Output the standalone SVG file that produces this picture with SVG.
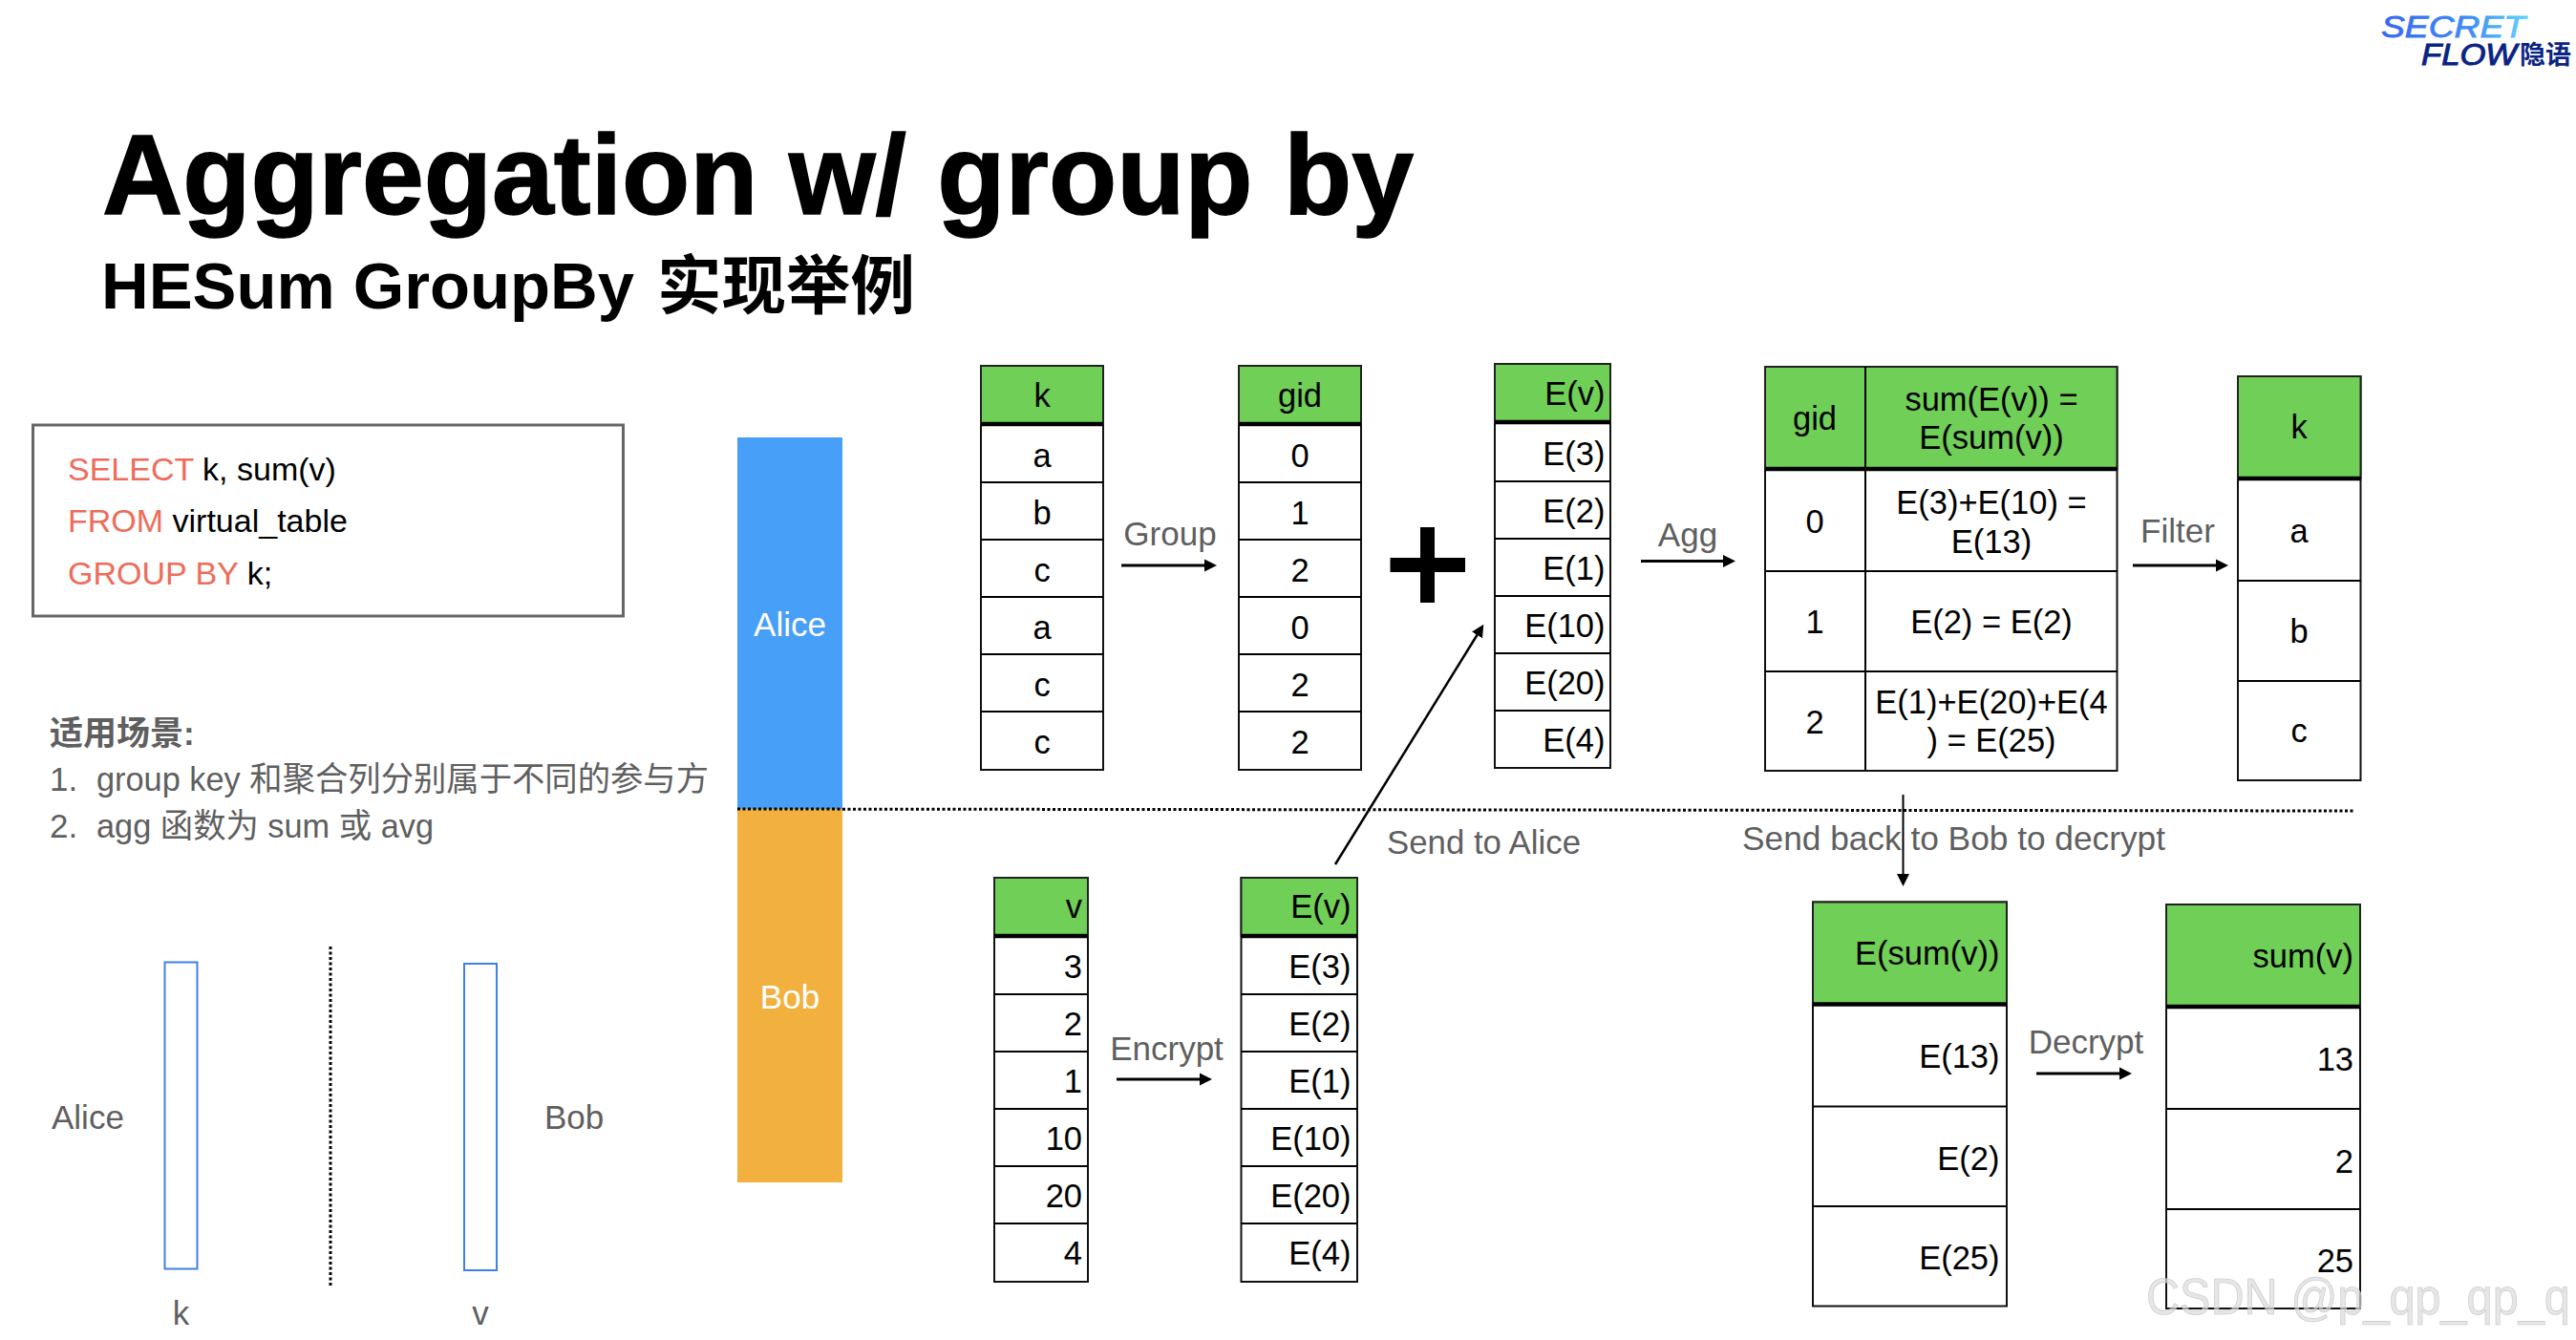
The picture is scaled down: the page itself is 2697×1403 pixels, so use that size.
<svg xmlns="http://www.w3.org/2000/svg" width="2697" height="1403" viewBox="0 0 2697 1403">
<style>
text{font-family:"Liberation Sans","Noto Sans CJK SC",sans-serif}
.c{font-size:34.500px;fill:#000;text-anchor:middle}
.r{font-size:34.500px;fill:#000;text-anchor:end}
.g{font-size:35px;fill:#5f5f5f}
.m{text-anchor:middle}
.w{font-size:35px;fill:#fff;text-anchor:middle;font-weight:500}
.s{font-size:34px;fill:#000}
.o{fill:#ee6c5a}
.t{fill:#fff;stroke:#111;stroke-width:2}
.h{fill:#70cf57;stroke:#222;stroke-width:2}
.l{stroke:#000;stroke-width:2;fill:none}
.b{stroke:#000;stroke-width:4.500;fill:none}
.a{stroke:#000;stroke-width:3;fill:none;marker-end:url(#ah)}
.d{stroke:#000;stroke-width:3;stroke-dasharray:3 2.500;fill:none}
.p{fill:#fff;stroke:#3f7fe8;stroke-width:2}
</style>
<defs>
<marker id="ah" markerUnits="userSpaceOnUse" markerWidth="14" markerHeight="14" refX="1" refY="7" orient="auto"><path d="M0,0.500 L13,7 L0,13.500 Z" fill="#000"/></marker>
<linearGradient id="lg" x1="0" x2="1" y1="0" y2="0"><stop offset="0" stop-color="#3568f0"/><stop offset="0.600" stop-color="#3f8cf5"/><stop offset="1" stop-color="#62d4fb"/></linearGradient>
</defs>

<g id="logo">
<text x="2493" y="39" font-size="32" font-style="italic" fill="url(#lg)" stroke="url(#lg)" stroke-width="0.800" textLength="151" lengthAdjust="spacingAndGlyphs">SECRET</text>
<text x="2535" y="68" font-size="32" font-style="italic" fill="#0a2484" stroke="#0a2484" stroke-width="1" textLength="100" lengthAdjust="spacingAndGlyphs">FLOW</text>
<text x="2638" y="67" font-size="27" font-weight="700" fill="#0a2484">隐语</text>
</g>

<g id="title">
<text x="107" y="224" font-size="119" font-weight="700" fill="#000" stroke="#000" stroke-width="1.500" textLength="1373" lengthAdjust="spacingAndGlyphs">Aggregation w/ group by</text>
<text x="106" y="323" font-size="69" font-weight="700" fill="#000" textLength="558" lengthAdjust="spacingAndGlyphs">HESum GroupBy</text>
<text x="688" y="323" font-size="67.500" font-weight="700" fill="#000">实现举例</text>
</g>

<g id="sql">
<rect x="34.500" y="445" width="618" height="200" fill="#fff" stroke="#666" stroke-width="3"/>
<text class="s" x="71" y="503"><tspan class="o">SELECT</tspan> k, sum(v)</text>
<text class="s" x="71" y="557"><tspan class="o">FROM</tspan> virtual_table</text>
<text class="s" x="71" y="612"><tspan class="o">GROUP BY</tspan> k;</text>
</g>

<g id="usage">
<text class="g" x="52" y="780" font-weight="700">适用场景:</text>
<text class="g" x="52" y="828">1.</text><text class="g" x="101" y="828" textLength="641" lengthAdjust="spacingAndGlyphs">group key 和聚合列分别属于不同的参与方</text>
<text class="g" x="52" y="877">2.</text><text class="g" x="101" y="877" textLength="353" lengthAdjust="spacingAndGlyphs">agg 函数为 sum 或 avg</text>
</g>

<g id="partition">
<rect class="p" x="172.500" y="1007.500" width="34" height="321"/>
<rect class="p" x="486" y="1009" width="34" height="321"/>
<line class="d" x1="346" y1="991" x2="346" y2="1347"/>
<text class="g" x="54" y="1182">Alice</text>
<text class="g" x="570" y="1182">Bob</text>
<text class="g m" x="189.500" y="1387">k</text>
<text class="g m" x="503" y="1387">v</text>
</g>

<g id="alice-band"><rect x="772" y="458" width="110" height="389" fill="#479ff8"/><text class="w" x="827" y="666">Alice</text></g>
<g id="bob-band"><rect x="772" y="847" width="110" height="391" fill="#f2b03f"/><text class="w" x="827" y="1056">Bob</text></g>

<g id="table-k" transform="translate(0,1)">
<rect class="t" x="1027" y="382" width="128" height="423"/>
<rect class="h" x="1027" y="382" width="128" height="61"/>
<path class="b" d="M1027,443H1155"/><path class="l" d="M1027,504H1155M1027,564H1155M1027,624H1155M1027,684H1155M1027,744H1155"/>
<g transform="translate(0,1)"><text class="c" x="1091" y="424">k</text><text class="c" x="1091" y="487">a</text><text class="c" x="1091" y="547">b</text><text class="c" x="1091" y="607">c</text><text class="c" x="1091" y="667">a</text><text class="c" x="1091" y="727">c</text><text class="c" x="1091" y="787">c</text></g>
</g>

<g id="table-gid" transform="translate(0,1)">
<rect class="t" x="1297" y="382" width="128" height="423"/>
<rect class="h" x="1297" y="382" width="128" height="61"/>
<path class="b" d="M1297,443H1425"/><path class="l" d="M1297,504H1425M1297,564H1425M1297,624H1425M1297,684H1425M1297,744H1425"/>
<g transform="translate(0,1)"><text class="c" x="1361" y="424">gid</text><text class="c" x="1361" y="487">0</text><text class="c" x="1361" y="547">1</text><text class="c" x="1361" y="607">2</text><text class="c" x="1361" y="667">0</text><text class="c" x="1361" y="727">2</text><text class="c" x="1361" y="787">2</text></g>
</g>

<g id="plus"><rect x="1487" y="552" width="15" height="79"/><rect x="1455.500" y="584" width="78.500" height="15"/></g>

<g id="table-ev-alice" transform="translate(0,1)">
<rect class="t" x="1565" y="380" width="121" height="423"/>
<rect class="h" x="1565" y="380" width="121" height="61"/>
<path class="b" d="M1565,441H1686"/><path class="l" d="M1565,503H1686M1565,563H1686M1565,623H1686M1565,683H1686M1565,743H1686"/>
<g transform="translate(1.500,0.500)"><text class="r" x="1679" y="422">E(v)</text><text class="r" x="1679" y="485">E(3)</text><text class="r" x="1679" y="545">E(2)</text><text class="r" x="1679" y="605">E(1)</text><text class="r" x="1679" y="665">E(10)</text><text class="r" x="1679" y="725">E(20)</text><text class="r" x="1679" y="785">E(4)</text></g>
</g>

<g id="table-agg" transform="translate(0,1)">
<rect class="t" x="1848" y="383" width="368.500" height="423"/>
<rect class="h" x="1848" y="383" width="368.500" height="107"/>
<path class="b" d="M1848,490H2216.500"/><path class="l" d="M1953,383V806M1848,597H2216.500M1848,702H2216.500"/>
<g transform="translate(0,1)"><text class="c" x="1900" y="448">gid</text>
<text class="c" x="2085" y="428">sum(E(v)) =</text><text class="c" x="2085" y="468">E(sum(v))</text>
<text class="c" x="1900" y="556">0</text>
<text class="c" x="2085" y="536">E(3)+E(10) =</text><text class="c" x="2085" y="577">E(13)</text>
<text class="c" x="1900" y="661">1</text><text class="c" x="2085" y="661">E(2) = E(2)</text>
<text class="c" x="1900" y="766">2</text>
<text class="c" x="2085" y="745">E(1)+E(20)+E(4</text><text class="c" x="2085" y="785">) = E(25)</text></g>
</g>

<g id="table-k-filtered" transform="translate(0,1)">
<rect class="t" x="2343" y="393" width="128.500" height="423"/>
<rect class="h" x="2343" y="393" width="128.500" height="107"/>
<path class="b" d="M2343,500H2471.500"/><path class="l" d="M2343,607H2471.500M2343,712H2471.500"/>
<text class="c" x="2407" y="458">k</text><text class="c" x="2407" y="567">a</text><text class="c" x="2407" y="672">b</text><text class="c" x="2407" y="776">c</text>
</g>

<g id="table-v" transform="translate(0,1)">
<rect class="t" x="1041" y="918" width="98" height="423"/>
<rect class="h" x="1041" y="918" width="98" height="61"/>
<path class="b" d="M1041,979H1139"/><path class="l" d="M1041,1040H1139M1041,1100H1139M1041,1160H1139M1041,1220H1139M1041,1280H1139"/>
<g transform="translate(1,1)"><text class="r" x="1132" y="959">v</text><text class="r" x="1132" y="1022">3</text><text class="r" x="1132" y="1082">2</text><text class="r" x="1132" y="1142">1</text><text class="r" x="1132" y="1202">10</text><text class="r" x="1132" y="1262">20</text><text class="r" x="1132" y="1322">4</text></g>
</g>

<g id="table-ev-bob" transform="translate(0,1)">
<rect class="t" x="1299.500" y="918" width="121.500" height="423"/>
<rect class="h" x="1299.500" y="918" width="121.500" height="61"/>
<path class="b" d="M1299.500,979H1421"/><path class="l" d="M1299.500,1040H1421M1299.500,1100H1421M1299.500,1160H1421M1299.500,1220H1421M1299.500,1280H1421"/>
<g transform="translate(1.500,1)"><text class="r" x="1413" y="959">E(v)</text><text class="r" x="1413" y="1022">E(3)</text><text class="r" x="1413" y="1082">E(2)</text><text class="r" x="1413" y="1142">E(1)</text><text class="r" x="1413" y="1202">E(10)</text><text class="r" x="1413" y="1262">E(20)</text><text class="r" x="1413" y="1322">E(4)</text></g>
</g>

<g id="table-esum" transform="translate(0,1.500)">
<rect class="t" x="1898" y="943" width="203" height="423"/>
<rect class="h" x="1898" y="943" width="203" height="107"/>
<path class="b" d="M1898,1050H2101"/><path class="l" d="M1898,1157H2101M1898,1261.500H2101"/>
<g transform="translate(1.500,0)"><text class="r" x="2092" y="1008">E(sum(v))</text><text class="r" x="2092" y="1116">E(13)</text><text class="r" x="2092" y="1223">E(2)</text><text class="r" x="2092" y="1327">E(25)</text></g>
</g>

<g id="table-sum" transform="translate(0,1)">
<rect class="t" x="2268" y="946" width="203" height="423"/>
<rect class="h" x="2268" y="946" width="203" height="107"/>
<path class="b" d="M2268,1053H2471"/><path class="l" d="M2268,1160H2471M2268,1265H2471"/>
<g transform="translate(1,0.500)"><text class="r" x="2463" y="1011">sum(v)</text><text class="r" x="2463" y="1119">13</text><text class="r" x="2463" y="1226">2</text><text class="r" x="2463" y="1330">25</text></g>
</g>

<g id="connector-labels">
<text class="g m" x="1225" y="571">Group</text>
<text class="g m" x="1767" y="572">Agg</text>
<text class="g m" x="2280" y="568">Filter</text>
<text class="g m" x="1221.500" y="1110">Encrypt</text>
<text class="g m" x="2184" y="1103">Decrypt</text>
<text class="g" x="1452" y="894" textLength="203" lengthAdjust="spacingAndGlyphs">Send to Alice</text>
<text class="g" x="1824" y="890" textLength="443" lengthAdjust="spacingAndGlyphs">Send back to Bob to decrypt</text>
</g>

<g id="connectors">
<line class="a" x1="1174" y1="592" x2="1262" y2="592"/>
<line class="a" x1="1718" y1="587.500" x2="1805" y2="587.500"/>
<line class="a" x1="2233" y1="592" x2="2321" y2="592"/>
<line class="a" x1="1169" y1="1130" x2="1257" y2="1130"/>
<line class="a" x1="2132" y1="1124" x2="2220" y2="1124"/>
<line class="a" style="stroke-width:2.500" x1="1398" y1="905" x2="1547" y2="664"/>
<line class="a" style="stroke-width:2" x1="1992.500" y1="832" x2="1992.500" y2="916"/>
<line class="d" x1="772" y1="847" x2="2464" y2="849"/>
</g>

<g id="watermark"><text transform="translate(2247,1376) scale(0.900,1)" font-size="54" fill="#dcdcdc" fill-opacity="0.700" stroke="#c4c4c4" stroke-width="0.600">CSDN @p_qp_qp_q</text></g>
</svg>
